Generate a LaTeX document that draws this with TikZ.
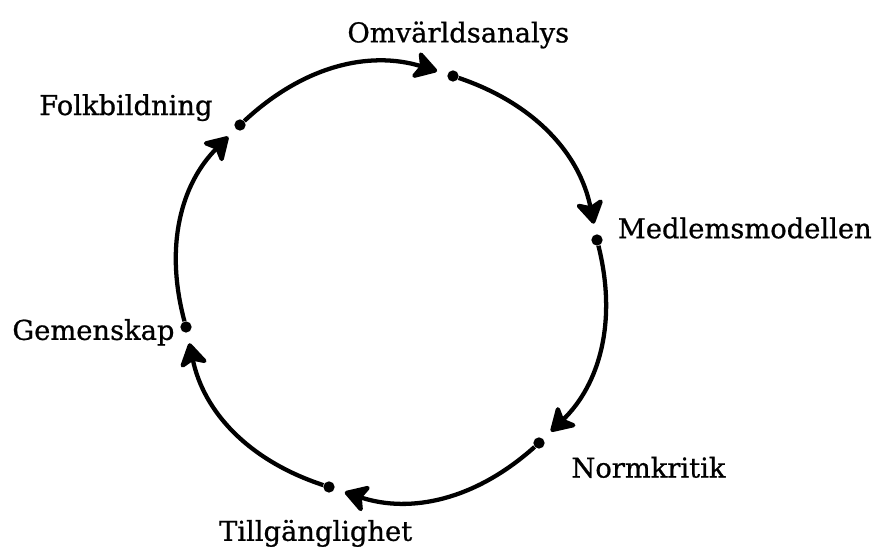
\documentclass[tikz,border=0pt]{standalone}
\usepackage{fontspec}
\setmainfont{DejaVu Serif}[FakeBold=0.8]
\usetikzlibrary{arrows.meta,positioning}

\begin{document}
\begin{tikzpicture}[x=0.75pt, y=0.75pt,
    dot/.style={circle, fill=black, inner sep=0pt, minimum size=8.5pt},
    lbl/.style={inner sep=0pt, font=\fontsize{20.5}{24}\selectfont},
    flow/.style={line width=3.2pt, -{Stealth[length=20pt, width=24pt, inset=5pt, round]},
        shorten >=8pt, bend left=30}]
    \useasboundingbox (0,0) rectangle (876,556);

    % stations round the cycle
    \node[dot] (omv) at (453,480) {};
    \node[dot] (med) at (597,316) {};
    \node[dot] (nor) at (539,113) {};
    \node[dot] (til) at (329,69) {};
    \node[dot] (gem) at (186,229) {};
    \node[dot] (fol) at (240,431) {};

    % labels
    \node[lbl, above=16pt of omv, xshift=4pt] (omvt) {Omvärldsanalys};
    \node[lbl, right=11pt of med, yshift=9pt] (medt) {Medlemsmodellen};
    \node[lbl, below right=7pt and 21pt of nor] (nort) {Normkritik};
    \node[lbl, below=20pt of til, xshift=-10pt] (tilt) {Tillgänglighet};
    \node[lbl, left=4pt of gem, yshift=-4pt] (gemt) {Gemenskap};
    \node[lbl, left=16pt of fol, yshift=13pt] (folt) {Folkbildning};

    % the cycle
    \draw[flow] (fol) to (omv);
    \draw[flow] (omv) to (med);
    \draw[flow] (med) to (nor);
    \draw[flow] (nor) to (til);
    \draw[flow] (til) to (gem);
    \draw[flow] (gem) to (fol);
\end{tikzpicture}
\end{document}
